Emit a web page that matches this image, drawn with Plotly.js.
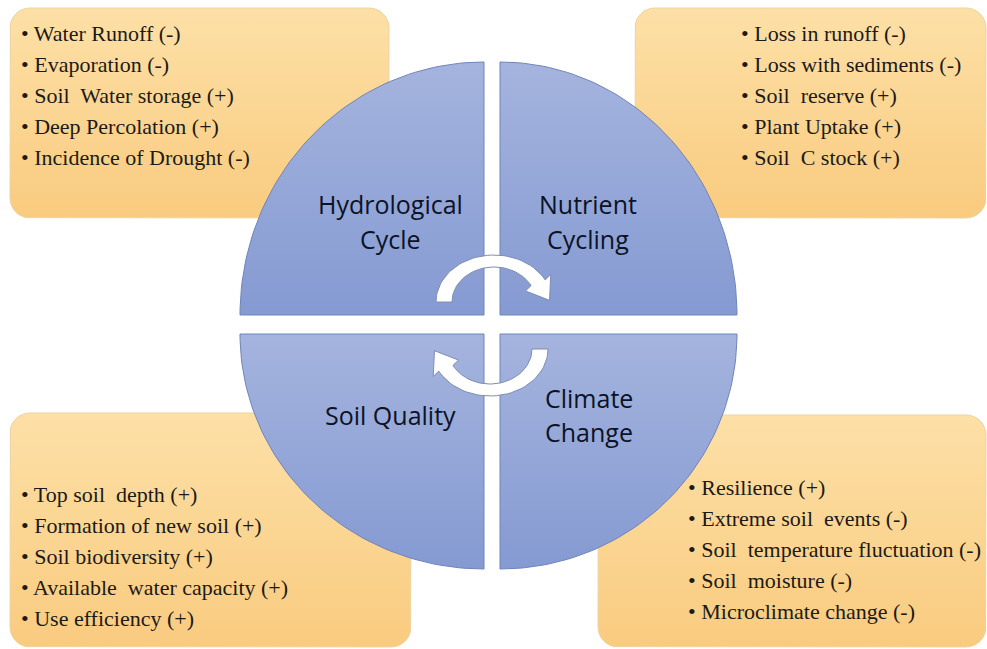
<!DOCTYPE html>
<html><head><meta charset="utf-8">
<script src="https://cdn.plot.ly/plotly-3.0.1.min.js"></script>
<style>html,body{margin:0;padding:0;background:#fff}#chart{width:987px;height:649px}</style>
</head><body><div id="chart"></div>
<script>
// ---- content ----
const quadrantTitles = [["Hydrological", "Cycle"], ["Nutrient", "Cycling"], ["Soil Quality"], ["Climate", "Change"]];
const hydrologicalItems = ["Water Runoff (-)", "Evaporation (-)", "Soil  Water storage (+)", "Deep Percolation (+)", "Incidence of Drought (-)"];
const nutrientItems = ["Loss in runoff (-)", "Loss with sediments (-)", "Soil  reserve (+)", "Plant Uptake (+)", "Soil  C stock (+)"];
const soilQualityItems = ["Top soil  depth (+)", "Formation of new soil (+)", "Soil biodiversity (+)", "Available  water capacity (+)", "Use efficiency (+)"];
const climateItems = ["Resilience (+)", "Extreme soil  events (-)", "Soil  temperature fluctuation (-)", "Soil  moisture (-)", "Microclimate change (-)"];
const itemLists = [hydrologicalItems, nutrientItems, soilQualityItems, climateItems];

// ---- layout geometry (pixels; axes map 1 unit = 1 px) ----
const W = 987, H = 649;
const boxes = [
  {x0: 10, y0: 8, x1: 389, y1: 218, tx: 19, ty: 33},
  {x0: 635, y0: 8, x1: 986, y1: 218, tx: 739, ty: 33},
  {x0: 10, y0: 413, x1: 411, y1: 647, tx: 19, ty: 494},
  {x0: 598, y0: 415, x1: 986, y1: 647, tx: 686, ty: 487}
];
const lineGap = 31;
const quads = [
  {cx: 484, cy: 315, rx: 244, ry: 253, sx: -1, sy: -1},
  {cx: 500, cy: 315, rx: 237, ry: 253, sx: 1, sy: -1},
  {cx: 484, cy: 334, rx: 244, ry: 235, sx: -1, sy: 1},
  {cx: 500, cy: 334, rx: 237, ry: 235, sx: 1, sy: 1}
];
const labelPos = [{x: 390, y: [204, 239]}, {x: 588, y: [204, 239]}, {x: 390, y: [415]}, {x: 589, y: [398, 432]}];
const arrows = [{cx: 494, cy: 302, rot: 0}, {cx: 490, cy: 349, rot: Math.PI}];

const serifFont = 'Liberation Serif';
const sansFont = 'Open Sans';

function roundRect(b, r) {
  const xs = [], ys = [];
  const corners = [
    [b.x1 - r, b.y0 + r, -90, 0], [b.x1 - r, b.y1 - r, 0, 90],
    [b.x0 + r, b.y1 - r, 90, 180], [b.x0 + r, b.y0 + r, 180, 270]
  ];
  corners.forEach(([cx, cy, a0, a1]) => {
    for (let i = 0; i <= 8; i++) {
      const a = (a0 + (a1 - a0) * i / 8) * Math.PI / 180;
      xs.push(cx + r * Math.cos(a)); ys.push(cy + r * Math.sin(a));
    }
  });
  xs.push(xs[0]); ys.push(ys[0]);
  return {xs, ys};
}
function quarter(q) {
  const xs = [q.cx], ys = [q.cy];
  for (let i = 0; i <= 60; i++) {
    const a = (i / 60) * Math.PI / 2;
    xs.push(q.cx + q.sx * q.rx * Math.cos(a));
    ys.push(q.cy + q.sy * q.ry * Math.sin(a));
  }
  xs.push(q.cx); ys.push(q.cy);
  return {xs, ys};
}
function arrowShape(A) {
  const rox = 58, roy = 47, rix = 42, riy = 35, rmx = 50, rmy = 41;
  const te = 28 * Math.PI / 180;
  const pts = [];
  for (let i = 0; i <= 40; i++) {
    const t = Math.PI + (te - Math.PI) * i / 40;
    pts.push([rox * Math.cos(t), -roy * Math.sin(t)]);
  }
  const M = [rmx * Math.cos(te), -rmy * Math.sin(te)];
  let n = [Math.cos(te) / rmx, -Math.sin(te) / rmy];
  let nl = Math.hypot(n[0], n[1]); n = [n[0] / nl, n[1] / nl];
  let tg = [rmx * Math.sin(te), rmy * Math.cos(te)];
  let tl = Math.hypot(tg[0], tg[1]); tg = [tg[0] / tl, tg[1] / tl];
  pts.push([M[0] + n[0] * 15, M[1] + n[1] * 15]);
  pts.push([M[0] + tg[0] * 21, M[1] + tg[1] * 21]);
  pts.push([M[0] - n[0] * 15, M[1] - n[1] * 15]);
  for (let i = 0; i <= 40; i++) {
    const t = te + (Math.PI - te) * i / 40;
    pts.push([rix * Math.cos(t), -riy * Math.sin(t)]);
  }
  pts.push(pts[0]);
  const c = Math.cos(A.rot), s = Math.sin(A.rot);
  return {xs: pts.map(p => A.cx + p[0] * c - p[1] * s), ys: pts.map(p => A.cy + p[0] * s + p[1] * c)};
}

const traces = [];
boxes.forEach(b => {
  const p = roundRect(b, 20);
  traces.push({x: p.xs, y: p.ys, mode: 'lines', fill: 'toself', hoverinfo: 'skip', showlegend: false,
    line: {color: '#ecd3a0', width: 1},
    fillgradient: {type: 'vertical', start: b.y0, stop: b.y1, colorscale: [[0, '#fde0a7'], [1, '#f9cb7f']]}});
});
quads.forEach(q => {
  const p = quarter(q);
  const top = Math.min(q.cy, q.cy + q.sy * q.ry), bot = Math.max(q.cy, q.cy + q.sy * q.ry);
  traces.push({x: p.xs, y: p.ys, mode: 'lines', fill: 'toself', hoverinfo: 'skip', showlegend: false,
    line: {color: '#6f84b8', width: 1},
    fillgradient: {type: 'vertical', start: top, stop: bot, colorscale: [[0, '#a5b4de'], [1, '#859ad2']]}});
});
arrows.forEach(A => {
  const p = arrowShape(A);
  traces.push({x: p.xs, y: p.ys, mode: 'lines', fill: 'toself', fillcolor: '#ffffff', hoverinfo: 'skip', showlegend: false,
    line: {color: '#7d8db3', width: 1}});
});

const annotations = [];
itemLists.forEach((items, k) => {
  items.forEach((t, i) => {
    annotations.push({x: boxes[k].tx, y: boxes[k].ty + i * lineGap, xref: 'x', yref: 'y', text: '\u2022 ' + t,
      showarrow: false, xanchor: 'left', yanchor: 'middle',
      font: {family: serifFont, size: 22, color: '#1c1a17'}});
  });
});
quadrantTitles.forEach((lines, k) => {
  lines.forEach((t, i) => {
    annotations.push({x: labelPos[k].x, y: labelPos[k].y[i], xref: 'x', yref: 'y', text: t,
      showarrow: false, xanchor: 'center', yanchor: 'middle',
      font: {family: sansFont, size: 25, color: '#0b1326'}});
  });
});

const layout = {
  width: W, height: H, margin: {l: 0, r: 0, t: 0, b: 0},
  paper_bgcolor: '#ffffff', plot_bgcolor: '#ffffff',
  xaxis: {range: [0, W], visible: false, fixedrange: true},
  yaxis: {range: [H, 0], visible: false, fixedrange: true},
  annotations: annotations, showlegend: false
};
Plotly.newPlot('chart', traces, layout, {staticPlot: true, displayModeBar: false});
</script></body></html>
